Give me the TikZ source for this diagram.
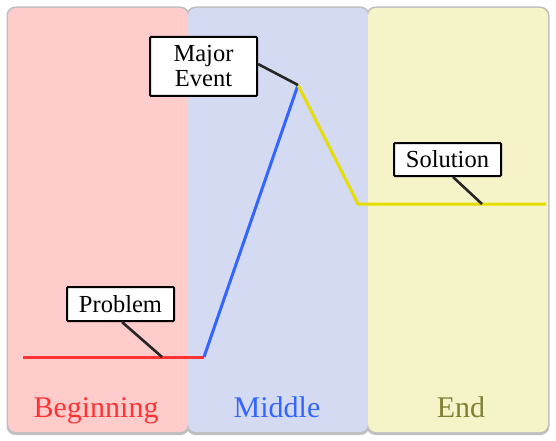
\documentclass[tikz,border=0pt]{standalone}
\usepackage{fontspec}
\setmainfont{Liberation Serif}
\usepackage{tikz}
\usetikzlibrary{calc, positioning}

\definecolor{begfill}{HTML}{FFCCCC}
\definecolor{midfill}{HTML}{D5DAF3}
\definecolor{endfill}{HTML}{F5F3C8}
\definecolor{begline}{HTML}{FF3333}
\definecolor{midline}{HTML}{3366FF}
\definecolor{endline}{HTML}{E6DC00}
\definecolor{endtext}{HTML}{808033}

\begin{document}
\begin{tikzpicture}[
  x=1pt, y=1pt,
  panel/.style={
    rounded corners=8pt,
    fill=#1
    },
  panelshadow/.style={
    rounded corners=9pt,
    fill=black!25
    },
  tag/.style={
    draw,
    line width=2pt,
    fill=white,
    rounded corners=1pt,
    minimum width=107pt,
    inner sep=3pt,
    align=center,
    font=\fontsize{24.5}{25}\selectfont
    },
  partname/.style={
    anchor=base,
    font=\fontsize{30}{32}\selectfont
    },
  plotline/.style={
    line width=3pt
    },
  leader/.style={
    line width=2.6pt,
    black!85
    }
]

\useasboundingbox (0,0) rectangle (556,440);

% panels with shadow
\foreach \xl/\xr in {8/188, 188/368, 368/548}
  {
  \fill[panelshadow] (\xl-1.5,5) rectangle (\xr+1.5,433.5);
  }
\foreach \xl/\xr/\col in {8/188/begfill, 188/368/midfill, 368/548/endfill}
  {
  \fill[panel=\col] (\xl,8) rectangle (\xr,432);
  }

% story line
\coordinate (start) at (23,83);
\coordinate (rise) at (204,83);
\coordinate (peak) at (298,355);
\coordinate (fall) at (358,236);
\coordinate (finish) at (546,236);

\draw[plotline, begline] (start) -- (rise);
\draw[plotline, midline] (rise) -- (peak);
\draw[plotline, endline, line join=miter] (peak) -- (fall) -- (finish);

% labels
\node[tag, minimum height=34pt](problem) at (120.5,136) {Problem};
\node[tag, minimum height=59pt](event) at (203.5,373.5) {Major\\Event};
\node[tag, minimum height=33pt](solution) at (447.5,280.5) {Solution};

\coordinate (problemfoot) at (162,83);
\coordinate (solutionfoot) at (482,236);

\draw[leader] ($(problem.south)+(1.5,0)$) -- (problemfoot);
\draw[leader] ($(event.east)+(0,2.5)$) -- (peak);
\draw[leader] ($(solution.south)+(5.5,0)$) -- (solutionfoot);

% part names
\node[partname, text=begline](beginning) at (96,23) {Beginning};
\node[partname, text=midline](middle) at (277,23) {Middle};
\node[partname, text=endtext](end) at (461,23) {End};

\end{tikzpicture}
\end{document}
